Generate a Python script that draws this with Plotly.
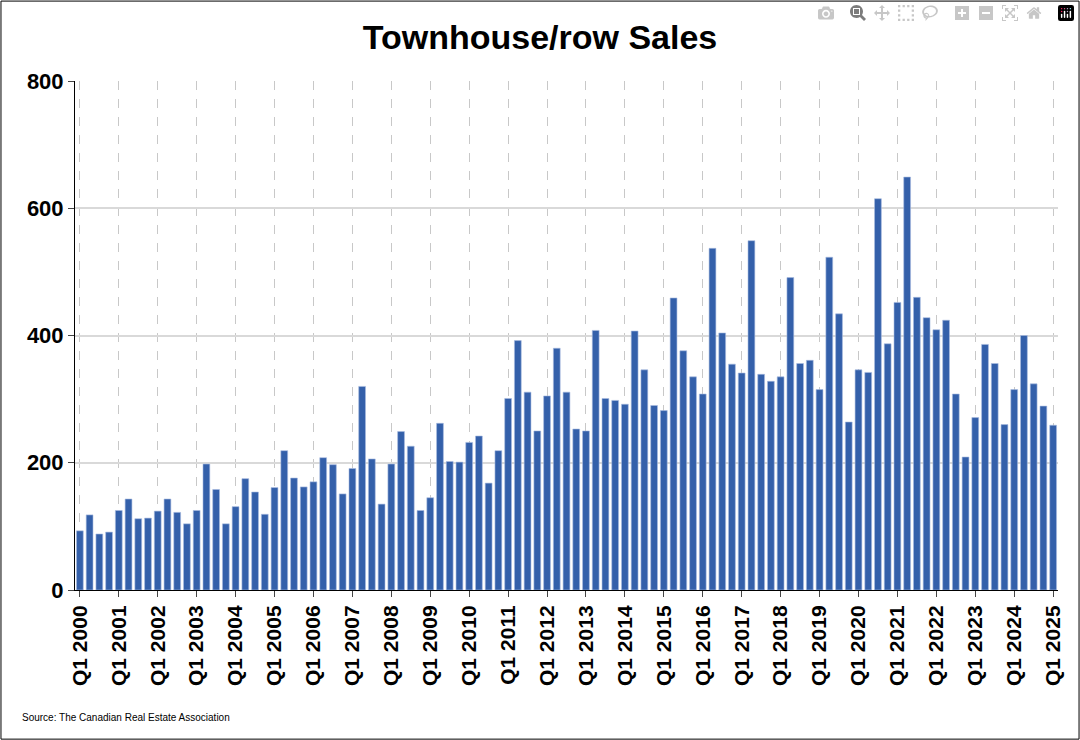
import plotly.graph_objects as go

years = list(range(2000, 2026))
quarters = [f"Q{q} {y}" for y in years for q in range(1, 5)][:101]

sales = [
    93, 118, 88, 91,
    125, 143, 112, 113,
    124, 143, 122, 104,
    125, 198, 158, 104,
    131, 175, 154, 119,
    161, 219, 176, 162,
    170, 208, 197, 151,
    191, 320, 206, 135,
    198, 249, 226, 125,
    145, 262, 202, 201,
    232, 242, 168, 219,
    301, 392, 311, 250,
    305, 380, 311, 253,
    250, 408, 301, 298,
    292, 407, 346, 290,
    282, 459, 376, 335,
    308, 537, 404, 355,
    341, 549, 339, 328,
    335, 491, 356, 361,
    315, 523, 434, 264,
    346, 342, 615, 387,
    452, 649, 460, 428,
    409, 424, 308, 209,
    271, 386, 356, 260,
    315, 400, 324, 289,
    259,
]

tick_labels = [q for q in quarters if q.startswith("Q1")]

fig = go.Figure(go.Bar(
    x=quarters, y=sales,
    marker=dict(color="#3460AA", line=dict(color="#A9BCE0", width=0.6)),
))

fig.update_layout(
    width=1080, height=740,
    paper_bgcolor="white", plot_bgcolor="white",
    margin=dict(l=75, r=22, t=81, b=150),
    title=dict(text="<b>Townhouse/row Sales</b>", x=0.5, y=0.95, xanchor="center", yanchor="middle",
               font=dict(family="Arial, Liberation Sans", size=34, color="black")),
    font=dict(family="Arial, Liberation Sans", color="black"),
    bargap=0.3,
    showlegend=False,
    shapes=[dict(type="rect", xref="paper", yref="paper", x0=-0.0753, x1=1.0214, y0=-0.293, y1=1.157,
                 line=dict(color="black", width=1, dash="solid"))],
    annotations=[dict(text="Source: The Canadian Real Estate Association", xref="paper", yref="paper",
                      x=-0.056, y=-0.251, xanchor="left", yanchor="middle", showarrow=False,
                      font=dict(size=10, color="black"))],
)
fig.update_xaxes(
    type="category", tickmode="array", tickvals=tick_labels,
    ticktext=[f"<b>{t}</b>" for t in tick_labels],
    tickangle=-90, tickfont=dict(size=21), ticks="outside", ticklen=6,
    showgrid=True, gridcolor="#c8c8c8", griddash="dash", gridwidth=1,
    showline=True, linecolor="black", linewidth=1,
)
fig.update_yaxes(
    range=[0, 800], dtick=200, tickfont=dict(size=22), tickprefix="<b>", ticksuffix="</b>",
    showgrid=True, gridcolor="#d9d9d9", gridwidth=1.5,
    showline=True, linecolor="black", ticks="outside", ticklen=6, zeroline=False,
)

fig.write_html("out.html", post_script="document.body.style.margin='0';")
